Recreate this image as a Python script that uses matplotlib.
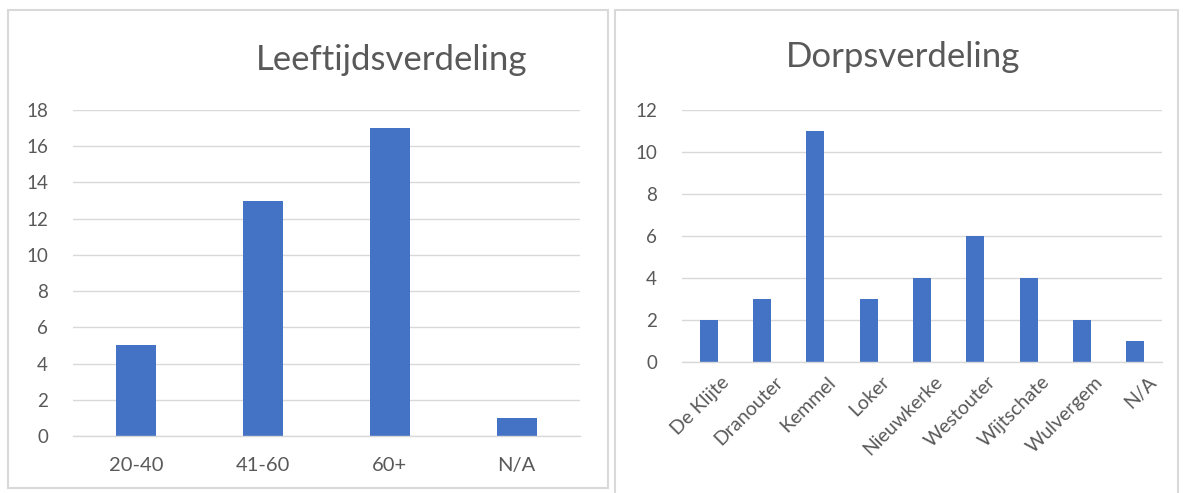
import matplotlib.pyplot as plt
import matplotlib.transforms as mtransforms
from matplotlib.patches import Rectangle

# age groups
age_groups = ['20-40', '41-60', '60+', 'N/A']
age_counts = [5, 13, 17, 1]

# villages
villages = ['De Klijte', 'Dranouter', 'Kemmel', 'Loker', 'Nieuwkerke',
            'Westouter', 'Wijtschate', 'Wulvergem', 'N/A']
village_counts = [2, 3, 11, 3, 4, 6, 4, 2, 1]

BAR = '#4472C4'
GRID = '#D9D9D9'
TEXT = '#595959'

plt.rcParams['font.family'] = ['Lato', 'DejaVu Sans']

W, H = 1183, 493
fig = plt.figure(figsize=(W / 100, H / 100), dpi=100)


def fx(px):
    return px / W


def fy(py):
    return 1 - py / H


# chart frames
fig.patches.append(Rectangle((fx(8), fy(488)), fx(600), fy(10) - fy(488),
                             transform=fig.transFigure, fill=False,
                             edgecolor=GRID, linewidth=1.5))
fig.patches.append(Rectangle((fx(615), fy(500)), fx(563), fy(10) - fy(500),
                             transform=fig.transFigure, fill=False,
                             edgecolor=GRID, linewidth=1.5))


def style(ax, ymax, step):
    ax.set_ylim(0, ymax)
    ax.set_yticks(range(0, ymax + 1, step))
    ax.yaxis.grid(True, color=GRID, linewidth=1)
    ax.set_axisbelow(True)
    for s in ['top', 'right', 'left']:
        ax.spines[s].set_visible(False)
    ax.spines['bottom'].set_color(GRID)
    ax.spines['bottom'].set_linewidth(1)
    ax.tick_params(length=0, colors=TEXT, labelsize=13.5)
    ax.tick_params(axis='y', pad=18)


ax1 = fig.add_axes([fx(73), fy(436), fx(580) - fx(73), fy(110) - fy(436)])
ax1.bar(range(len(age_groups)), age_counts, width=0.315, color=BAR)
ax1.set_xlim(-0.5, len(age_groups) - 0.5)
ax1.set_xticks(range(len(age_groups)))
ax1.set_xticklabels(age_groups)
style(ax1, 18, 2)
ax1.tick_params(axis='x', pad=15, labelsize=14.5)
fig.text(fx(392), fy(60), 'Leeftijdsverdeling', ha='center', va='center',
         fontsize=25, color=TEXT)

ax2 = fig.add_axes([fx(682), fy(362), fx(1162) - fx(682), fy(110) - fy(362)])
ax2.bar(range(len(villages)), village_counts, width=0.34, color=BAR)
ax2.set_xlim(-0.5, len(villages) - 0.5)
ax2.set_xticks(range(len(villages)))
ax2.set_xticklabels(villages, rotation=45, ha='right', rotation_mode='anchor')
style(ax2, 12, 2)
ax2.tick_params(axis='x', pad=8, labelsize=14)
# nudge the slanted names to the right so they end just past each bar
shift = mtransforms.ScaledTranslation(12 / 100, 0, fig.dpi_scale_trans)
for lbl in ax2.get_xticklabels():
    lbl.set_transform(lbl.get_transform() + shift)
fig.text(fx(903), fy(57), 'Dorpsverdeling', ha='center', va='center',
         fontsize=25, color=TEXT)

fig.savefig('out.png', dpi=100)
